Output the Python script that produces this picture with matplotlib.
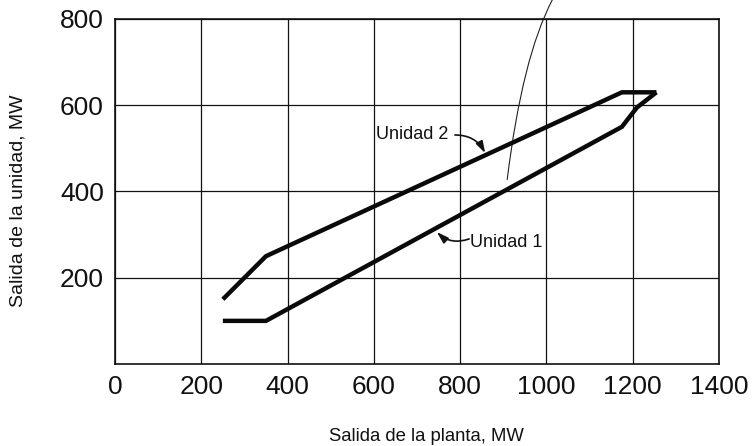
import matplotlib
matplotlib.use("Agg")
import matplotlib.pyplot as plt
from matplotlib.path import Path
from matplotlib.patches import PathPatch

plt.rcParams['font.family'] = ['Liberation Sans', 'DejaVu Sans']

# Plant output (MW) and corresponding unit outputs (MW)
unit2_plant = [250, 350, 1175, 1255]
unit2_output = [150, 250, 630, 630]
unit1_plant = [250, 350, 1175, 1210, 1255]
unit1_output = [100, 100, 550, 595, 630]

x_ticks = [0, 200, 400, 600, 800, 1000, 1200, 1400]
y_ticks = [200, 400, 600, 800]

# Label placement and arrow geometry (data units)
label_u2 = (605, 533)
arrow_u2 = ((788, 531), (858, 489))
label_u1 = (823, 282)
arrow_u1 = ((821, 290), (746, 306))
# Thin leader curve running out of the top of the plot (quadratic Bezier)
leader_pts = [(1014, 845), (944, 712), (909, 427)]

fig = plt.figure(figsize=(7.55, 4.46), dpi=100)
ax = fig.add_axes([0.1523, 0.1839, 0.8000, 0.7735])

ax.set_xlim(0, 1400)
ax.set_ylim(0, 800)
ax.set_xticks(x_ticks)
ax.set_yticks(y_ticks)
ax.tick_params(length=0, labelsize=19, pad=8, colors='#111111')
ax.grid(True, color='#111111', linewidth=0.9)
ax.set_axisbelow(True)
for sp in ax.spines.values():
    sp.set_linewidth(1.2)
    sp.set_color('#111111')

line_kw = dict(color='#0a0a0a', linewidth=3.2, solid_joinstyle='miter',
               solid_capstyle='butt', zorder=3)
ax.plot(unit2_plant, unit2_output, **line_kw)
ax.plot(unit1_plant, unit1_output, **line_kw)

ax.text(*label_u2, 'Unidad 2', fontsize=13, ha='left', va='center', color='#111111')
ax.text(*label_u1, 'Unidad 1', fontsize=13, ha='left', va='center', color='#111111')

arrow_kw = dict(arrowstyle='-|>,head_length=0.7,head_width=0.22', color='#111111',
                linewidth=1.2, shrinkA=0, shrinkB=0)
ax.annotate('', xy=arrow_u2[1], xytext=arrow_u2[0],
            arrowprops=dict(connectionstyle='arc3,rad=-0.3', **arrow_kw))
ax.annotate('', xy=arrow_u1[1], xytext=arrow_u1[0],
            arrowprops=dict(connectionstyle='arc3,rad=-0.3', **arrow_kw))

leader = PathPatch(Path(leader_pts, [Path.MOVETO, Path.CURVE3, Path.CURVE3]),
                   facecolor='none', edgecolor='#222222', linewidth=0.8,
                   clip_on=False, zorder=2)
ax.add_patch(leader)

ax.set_xlabel('Salida de la planta, MW', fontsize=13.3, color='#111111')
ax.set_ylabel('Salida de la unidad, MW', fontsize=14, color='#111111')
ax.xaxis.set_label_coords(0.516, -0.185)
ax.yaxis.set_label_coords(-0.146, 0.472)

fig.savefig('out.png', dpi=100, facecolor='white')
